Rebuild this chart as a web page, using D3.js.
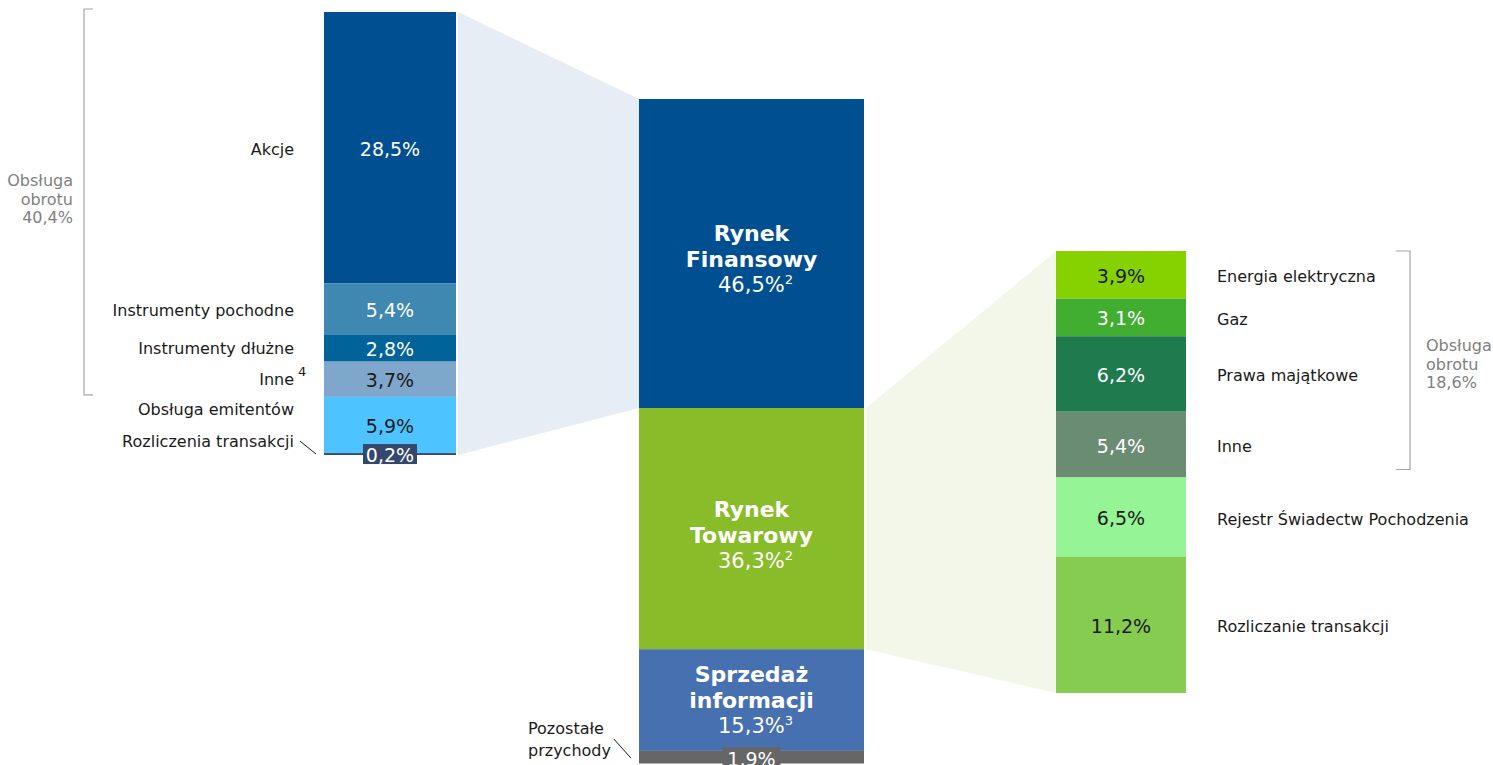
<!DOCTYPE html>
<html>
<head>
<meta charset="utf-8">
<script src="https://cdn.jsdelivr.net/npm/d3@7"></script>
<style>
  html, body { margin: 0; padding: 0; background: #fff; }
  svg { display: block; font-family: "DejaVu Sans", Verdana, sans-serif; }
  .val { font-size: 19px; text-anchor: middle; dominant-baseline: central; }
  .cat { font-size: 16px; fill: #1a1a1a; dominant-baseline: central; }
  .grp { font-size: 16px; fill: #808080; }
  .big { font-size: 22px; font-weight: bold; fill: #fff; text-anchor: middle; }
  .bigv { font-size: 21px; fill: #fff; text-anchor: middle; }
</style>
</head>
<body>
<script>
// left bar: Rynek Finansowy breakdown
var finNames = ["Akcje", "Instrumenty pochodne", "Instrumenty dłużne", "Inne", "Obsługa emitentów", "Rozliczenia transakcji"];
var finValues = [28.5, 5.4, 2.8, 3.7, 5.9, 0.2];
var finLabels = ["28,5%", "5,4%", "2,8%", "3,7%", "5,9%", "0,2%"];
var finColors = ["#004f91", "#3f88b2", "#00639a", "#7fa6cb", "#4dc3ff", "#34486b"];
var finText = ["#fff", "#fff", "#fff", "#1a1a1a", "#1a1a1a", "#fff"];

// middle bar: total revenue
var totNames = [["Rynek", "Finansowy"], ["Rynek", "Towarowy"], ["Sprzedaż", "informacji"], ["Pozostałe", "przychody"]];
var totValues = [46.5, 36.3, 15.3, 1.9];
var totLabels = ["46,5%", "36,3%", "15,3%", "1,9%"];
var totNotes = ["2", "2", "3", ""];
var totColors = ["#004f91", "#88bc28", "#4770b0", "#666666"];

// right bar: Rynek Towarowy breakdown
var towNames = ["Energia elektryczna", "Gaz", "Prawa majątkowe", "Inne", "Rejestr Świadectw Pochodzenia", "Rozliczanie transakcji"];
var towValues = [3.9, 3.1, 6.2, 5.4, 6.5, 11.2];
var towLabels = ["3,9%", "3,1%", "6,2%", "5,4%", "6,5%", "11,2%"];
var towColors = ["#86d200", "#41ad31", "#1f7a4e", "#6a8c72", "#95f595", "#85cc50"];
var towText = ["#1a1a1a", "#fff", "#fff", "#fff", "#1a1a1a", "#1a1a1a"];

var groupLeft = ["Obsługa", "obrotu", "40,4%"];
var groupRight = ["Obsługa", "obrotu", "18,6%"];

var W = 1493, H = 765;
var svg = d3.select("body").append("svg").attr("width", W).attr("height", H);

function stackOf(vals) {
  var c = Array.from(d3.cumsum(vals));
  return vals.map(function (v, i) { return { v: v, y0: c[i] - v, y1: c[i], i: i }; });
}

var xL = d3.scaleBand().domain([0]).range([324, 456]);
var xM = d3.scaleBand().domain([0]).range([639, 864]);
var xR = d3.scaleBand().domain([0]).range([1056, 1186]);
var yL = d3.scaleLinear().domain([0, d3.sum(finValues)]).range([12, 455]);
var yM = d3.scaleLinear().domain([0, d3.sum(totValues)]).range([99, 763.5]);
var yR = d3.scaleLinear().domain([0, d3.sum(towValues)]).range([251, 693]);

var finS = stackOf(finValues), totS = stackOf(totValues), towS = stackOf(towValues);

// connectors
var line = d3.line();
svg.append("path").attr("fill", "#e7edf5")
  .attr("d", line([[xL.range()[1] + 2, yL(0)], [xM.range()[0], yM(0)], [xM.range()[0], yM(totS[0].y1)], [xL.range()[1] + 2, yL(d3.sum(finValues))]]) + "Z");
svg.append("path").attr("fill", "#f3f7ea")
  .attr("d", line([[xM.range()[1] + 2, yM(totS[1].y0)], [xR.range()[0], yR(0)], [xR.range()[0], yR(d3.sum(towValues))], [xM.range()[1] + 2, yM(totS[1].y1)]]) + "Z");

function bars(data, x, y, colors) {
  svg.append("g").selectAll("rect").data(data).join("rect")
    .attr("x", x(0)).attr("width", x.bandwidth())
    .attr("y", function (d) { return y(d.y0); })
    .attr("height", function (d) { return y(d.y1) - y(d.y0); })
    .attr("fill", function (d) { return colors[d.i]; });
}
bars(finS, xL, yL, finColors);
bars(totS, xM, yM, totColors);
bars(towS, xR, yR, towColors);

function mid(d, y) { return (y(d.y0) + y(d.y1)) / 2; }
var cxL = xL(0) + xL.bandwidth() / 2, cxM = xM(0) + xM.bandwidth() / 2, cxR = xR(0) + xR.bandwidth() / 2;

// left bar values + category labels
var finCatDy = [2, 1, 0, 0, -15, 0];
finS.forEach(function (d, i) {
  var ym = mid(d, yL);
  if (i === finS.length - 1) {
    svg.append("rect").attr("x", cxL - 27).attr("y", ym - 10).attr("width", 54).attr("height", 20).attr("fill", finColors[i]);
  }
  svg.append("text").attr("class", "val").attr("x", cxL).attr("y", ym + 1).attr("fill", finText[i]).text(finLabels[i]);
  var ly = i === finS.length - 1 ? ym - 13 : ym + finCatDy[i];
  svg.append("text").attr("class", "cat").attr("x", 294).attr("y", ly).attr("text-anchor", "end").text(finNames[i]);
  if (finNames[i] === "Inne") {
    svg.append("text").attr("x", 298).attr("y", ly - 3).attr("font-size", 13).attr("fill", "#1a1a1a").text("4");
  }
  if (i === finS.length - 1) {
    svg.append("line").attr("x1", 300).attr("y1", ly).attr("x2", 316).attr("y2", ym)
      .attr("stroke", "#1a1a1a").attr("stroke-width", 1);
  }
});

// middle bar labels
totS.forEach(function (d, i) {
  var ym = mid(d, yM);
  if (i < 3) {
    var off = i === 2 ? 0 : 6;
    var base = ym + off;
    svg.append("text").attr("class", "big").attr("x", cxM).attr("y", base - 18).text(totNames[i][0]);
    svg.append("text").attr("class", "big").attr("x", cxM).attr("y", base + 8).text(totNames[i][1]);
    var v = svg.append("text").attr("class", "bigv").attr("x", cxM + 4).attr("y", base + 33);
    v.append("tspan").text(totLabels[i]);
    v.append("tspan").attr("font-size", 13).attr("dy", -8).text(totNotes[i]);
  } else {
    svg.append("rect").attr("x", cxM - 29).attr("y", ym - 10).attr("width", 58).attr("height", 22).attr("fill", totColors[i]);
    svg.append("text").attr("class", "val").attr("x", cxM).attr("y", ym + 2).attr("fill", "#fff").text(totLabels[i]);
    svg.append("text").attr("class", "cat").attr("x", 528).attr("y", ym - 29).text(totNames[i][0]);
    svg.append("text").attr("class", "cat").attr("x", 528).attr("y", ym - 7).text(totNames[i][1]);
    svg.append("line").attr("x1", 614).attr("y1", ym - 18).attr("x2", 631).attr("y2", ym + 1)
      .attr("stroke", "#1a1a1a").attr("stroke-width", 1);
  }
});

// right bar labels
towS.forEach(function (d, i) {
  var ym = mid(d, yR);
  svg.append("text").attr("class", "val").attr("x", cxR).attr("y", ym + 1).attr("fill", towText[i]).text(towLabels[i]);
  svg.append("text").attr("class", "cat").attr("x", 1217).attr("y", ym + 2).text(towNames[i]);
});

// brackets
var bl = { x: 84, y0: yL(0) - 3, y1: yL(40.4) - 2 };
svg.append("path").attr("fill", "none").attr("stroke", "#a6a6a6").attr("stroke-width", 1.2)
  .attr("d", "M" + (bl.x + 9) + "," + bl.y0 + "H" + bl.x + "V" + bl.y1 + "H" + (bl.x + 9));
var br = { x: 1410, y0: yR(0), y1: yR(18.6) - 8 };
svg.append("path").attr("fill", "none").attr("stroke", "#a6a6a6").attr("stroke-width", 1.2)
  .attr("d", "M" + (br.x - 14) + "," + br.y0 + "H" + br.x + "V" + br.y1 + "H" + (br.x - 14));

groupLeft.forEach(function (s, i) {
  svg.append("text").attr("class", "grp").attr("x", 73).attr("y", 186 + i * 18.5).attr("text-anchor", "end").text(s);
});
groupRight.forEach(function (s, i) {
  svg.append("text").attr("class", "grp").attr("x", 1426).attr("y", 351 + i * 18.5).text(s);
});
</script>
</body>
</html>
